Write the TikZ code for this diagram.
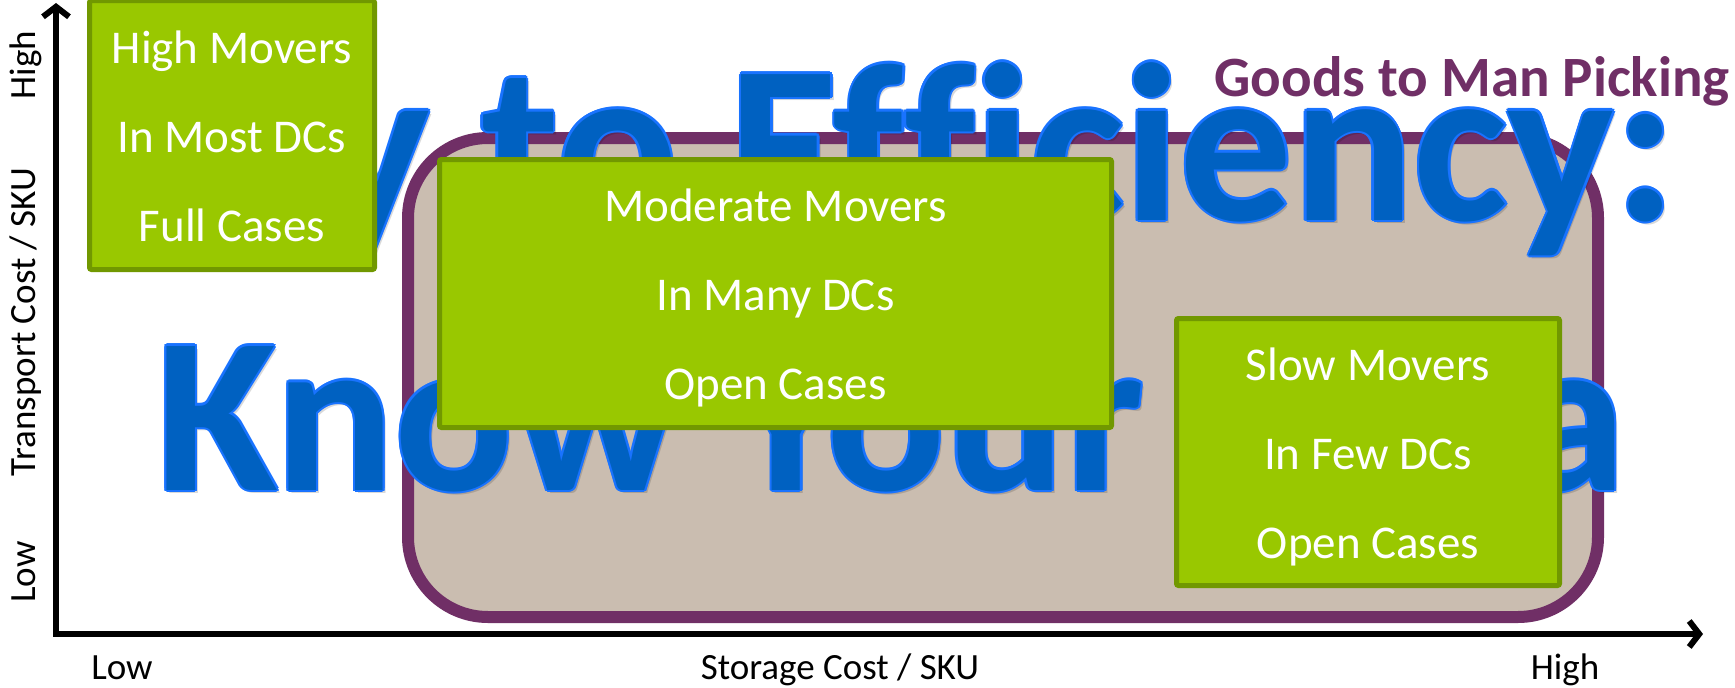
\documentclass[tikz,border=0pt]{standalone}
\usepackage{fontspec}
\setmainfont{Carlito}
\newfontfamily\titlefont[Ligatures=CommonOff]{Carlito}
\usetikzlibrary{arrows.meta}
\definecolor{gfill}{RGB}{153,200,0}
\definecolor{gborder}{RGB}{113,152,0}
\definecolor{purp}{RGB}{112,47,102}
\definecolor{tanc}{RGB}{202,189,176}
\definecolor{titleblue}{RGB}{0,97,193}
\definecolor{blueedge}{RGB}{25,115,255}
\tikzset{
  gbox/.style={draw=gborder, fill=gfill, line width=5pt, rounded corners=2pt, inner sep=0pt},
  gtext/.style={text=white, font=\fontsize{47}{56}\selectfont, anchor=base, inner sep=0pt},
  axlabel/.style={text=black, font=\fontsize{37}{44}\selectfont, anchor=base, inner sep=0pt},
  bigtitle/.style={font=\titlefont\bfseries\fontsize{222}{222}\selectfont, anchor=base, inner sep=0pt},
  bigtitlewide/.style={font=\titlefont\bfseries\fontsize{225}{225}\selectfont, anchor=base, inner sep=0pt},
  axisline/.style={line width=6pt, {Straight Barb[length=10pt,width=26pt]}-{Straight Barb[length=10pt,width=26pt]}}
}
\newcommand{\titleA}{Key to Efficiency:}
\newcommand{\titleB}{Know Your Data}
\begin{document}
\begin{tikzpicture}[x=1pt,y=-1pt]
\useasboundingbox (0,0) rectangle (1735,688);
% picking zone
\node[draw=purp, fill=tanc, line width=12pt, rounded corners=80pt, inner sep=0pt,
      minimum width=1190pt, minimum height=479pt] (zone) at (1003,377.5) {};
% background title (shadow, outline, fill)
\node[bigtitlewide, text=black, opacity=0.15] (shA) at (888,223) {\titleA};
\node[bigtitle, text=black, opacity=0.15] (shB) at (894,493) {\titleB};
\foreach \a in {0,30,...,330} {
  \node[bigtitlewide, text=blueedge] at ([shift={(\a:2.2)}]885,220) {\titleA};
  \node[bigtitle, text=blueedge] at ([shift={(\a:2.2)}]891,490) {\titleB};
}
\node[bigtitlewide, text=titleblue] (tA) at (885,220) {\titleA};
\node[bigtitle, text=titleblue] (tB) at (891,490) {\titleB};
% axes
\coordinate (ytop) at (56,3);
\coordinate (origin) at (56,634);
\coordinate (xend) at (1703,634);
\draw[axisline] (ytop) -- (origin) -- (xend);
% boxes
\node[gbox, minimum width=285pt, minimum height=269pt] (b1) at (232,135) {};
\node[gtext] (b1a) at ([yshift=72pt]b1.center) {High Movers};
\node[gtext] (b1b) at ([yshift=-17pt]b1.center) {In Most DCs};
\node[gtext] (b1c) at ([yshift=-106pt]b1.center) {Full Cases};
\node[gbox, minimum width=672pt, minimum height=268pt] (b2) at (775.5,293.5) {};
\node[gtext] (b2a) at ([yshift=72pt]b2.center) {Moderate Movers};
\node[gtext] (b2b) at ([yshift=-17pt]b2.center) {In Many DCs};
\node[gtext] (b2c) at ([yshift=-106pt]b2.center) {Open Cases};
\node[gbox, minimum width=383pt, minimum height=267pt] (b3) at (1368,452) {};
\node[gtext] (b3a) at ([yshift=72pt]b3.center) {Slow Movers};
\node[gtext] (b3b) at ([yshift=-17pt]b3.center) {In Few DCs};
\node[gtext] (b3c) at ([yshift=-106pt]b3.center) {Open Cases};
% zone title
\node[anchor=base east, inner sep=0pt, text=purp, font=\bfseries\fontsize{57}{60}\selectfont] (gtm) at (1730,96) {Goods to Man Picking};
% axis labels
\node[axlabel] (xlow) at (122,679) {Low};
\node[axlabel] (xmid) at (840,679) {Storage Cost / SKU};
\node[axlabel] (xhigh) at (1565,679) {High};
\node[axlabel, rotate=90] (yhigh) at (35,65) {High};
\node[axlabel, rotate=90] (ymid) at (35,322) {Transport Cost / SKU};
\node[axlabel, rotate=90] (ylow) at (35,572) {Low};
\end{tikzpicture}
\end{document}
